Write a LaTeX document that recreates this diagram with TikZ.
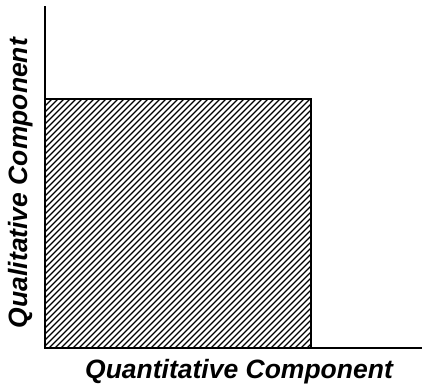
\documentclass[tikz,border=0pt]{standalone}
\usepackage{fontspec}
\setmainfont{Liberation Sans}
\begin{document}
\begin{tikzpicture}[x=1pt,y=-1pt,
  axis/.style={line width=2.2pt, line cap=rect},
  lbl/.style={font=\fontsize{26.5}{30}\selectfont\bfseries\itshape, inner sep=0pt, anchor=base},
  hatchline/.style={line width=1.3pt}]
\useasboundingbox (0,0) rectangle (422,385);
% hatching
\begin{scope}
\clip (45,99) rectangle (311,348);
\foreach \k in {0,6,...,540} {
  \draw[hatchline] (45+\k-260,348) -- (45+\k,88);
}
\end{scope}
\coordinate (top) at (45,7);
\coordinate (origin) at (45,348);
\coordinate (right) at (421,348);
\coordinate (rtl) at (45,99);
\coordinate (rtr) at (311,99);
\coordinate (rbr) at (311,348);
\draw[line width=2.4pt] (rtl) -- (rtr) -- (rbr);
\draw[axis] (top) -- (origin) -- (right);
\node[lbl] (xlab) at (239,378) {Quantitative Component};
\node[lbl, rotate=90] (ylab) at (27,183) {Qualitative Component};
\end{tikzpicture}
\end{document}
